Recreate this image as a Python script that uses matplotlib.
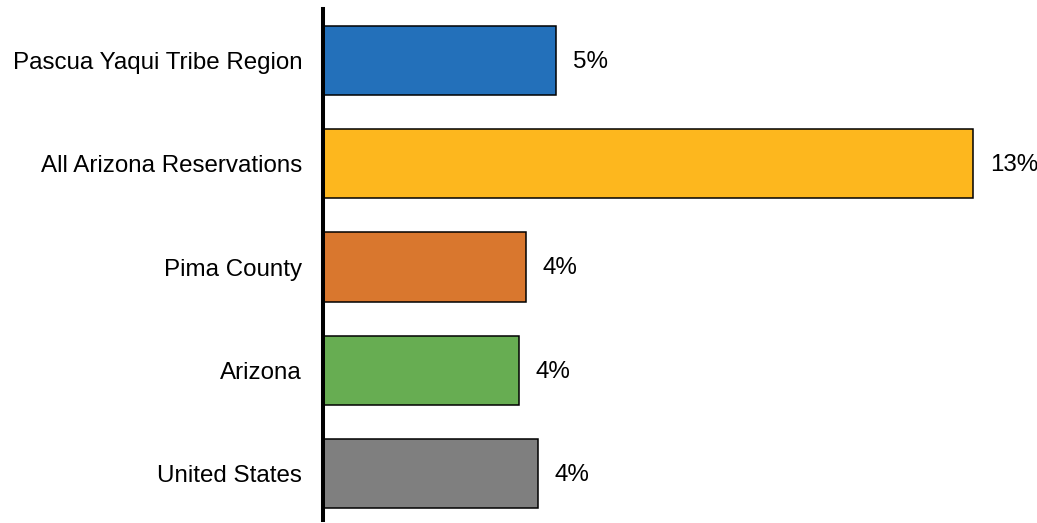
import matplotlib.pyplot as plt

# share of population, percent
regions = ["Pascua Yaqui Tribe Region", "All Arizona Reservations", "Pima County", "Arizona", "United States"]
values = [4.66, 13.0, 4.06, 3.92, 4.3]
colors = ["#2370BA", "#FDB71E", "#D9772E", "#67AD52", "#7F7F7F"]

plt.rcParams["font.family"] = ["Liberation Sans", "DejaVu Sans"]

fig = plt.figure(figsize=(10.37, 5.23), dpi=100)
ax = fig.add_axes([323 / 1037, 3 / 523, 700 / 1037, 511 / 523])

pos = list(range(len(regions)))
ax.barh(pos, values, height=0.67, color=colors, edgecolor="black", linewidth=1.1, zorder=2)

for y, v in zip(pos, values):
    ax.annotate("%d%%" % round(v), (v, y), xytext=(12, -1), textcoords="offset points",
                va="center", ha="left", fontsize=17.4)

ax.set_xlim(0, 14)
ax.set_ylim(4.45, -0.5)
ax.set_yticks(pos)
ax.set_yticklabels(regions, fontsize=17.4)
ax.tick_params(axis="y", length=0, pad=15)
ax.set_xticks([])

for side in ["top", "right", "bottom"]:
    ax.spines[side].set_visible(False)
ax.spines["left"].set_linewidth(2.9)
ax.spines["left"].set_zorder(3)

fig.savefig("out.png", dpi=100)
